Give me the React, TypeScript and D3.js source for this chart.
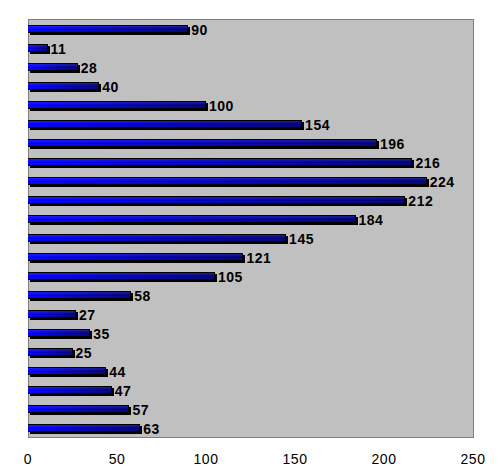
import React from 'react';
import * as d3 from 'd3';

const categories = d3.range(1, 23).map(String);
const values = [90, 11, 28, 40, 100, 154, 196, 216, 224, 212, 184, 145, 121, 105, 58, 27, 35, 25, 44, 47, 57, 63];
const xTicks = [0, 50, 100, 150, 200, 250];

const W = 503;
const H = 474;
const margin = { left: 28, top: 19, right: 30, bottom: 37 };

const App = () => {
    const x = d3.scaleLinear().domain([0, 250]).range([margin.left, W - margin.right]);
    const y = d3.scaleBand().domain(categories).range([margin.top, H - margin.bottom]);
    const barH = 8;
    const off = 2;

    return (
        <svg width={W} height={H} style={{ position: 'absolute', left: 0, top: 0, background: '#fff' }}
            fontFamily="'Liberation Sans', Arial, sans-serif">
            <defs>
                <linearGradient id="barGrad" x1="0" y1="0" x2="1" y2="0">
                    <stop offset="0" stopColor="#0000ff" />
                    <stop offset="1" stopColor="#00007a" />
                </linearGradient>
                <linearGradient id="shine" x1="0" y1="0" x2="0" y2="1">
                    <stop offset="0" stopColor="#ffffff" stopOpacity="0.12" />
                    <stop offset="0.6" stopColor="#ffffff" stopOpacity="0" />
                    <stop offset="1" stopColor="#000000" stopOpacity="0.15" />
                </linearGradient>
            </defs>
            <rect x={margin.left} y={margin.top} width={x(250) - x(0)} height={H - margin.bottom - margin.top}
                fill="#c0c0c0" stroke="#808080" strokeWidth={1} shapeRendering="crispEdges" />
            {values.map((v, i) => {
                const yy = (y(categories[i]) as number) + 6;
                const w = x(v) - x(0);
                return (
                    <g key={i} shapeRendering="crispEdges">
                        <rect x={x(0) + off} y={yy + off} width={w} height={barH} fill="#000" />
                        <rect x={x(0)} y={yy} width={w} height={barH} fill="#000" />
                        <rect x={x(0)} y={yy + 1} width={w - 1} height={barH - 2} fill="url(#barGrad)" />
                        <rect x={x(0)} y={yy + 1} width={w - 1} height={barH - 2} fill="url(#shine)" />
                        <text x={x(v) + off + 1} y={yy + barH / 2 + 1} dy="0.35em" fontSize={14}
                            fontWeight="bold" letterSpacing={0.5} fill="#000">{v}</text>
                    </g>
                );
            })}
            {xTicks.map(t => (
                <text key={t} x={x(t)} y={459} dy="0.35em" textAnchor="middle" fontSize={14}
                    letterSpacing={0.5} fill="#000">{t}</text>
            ))}
        </svg>
    );
};

export default App;
